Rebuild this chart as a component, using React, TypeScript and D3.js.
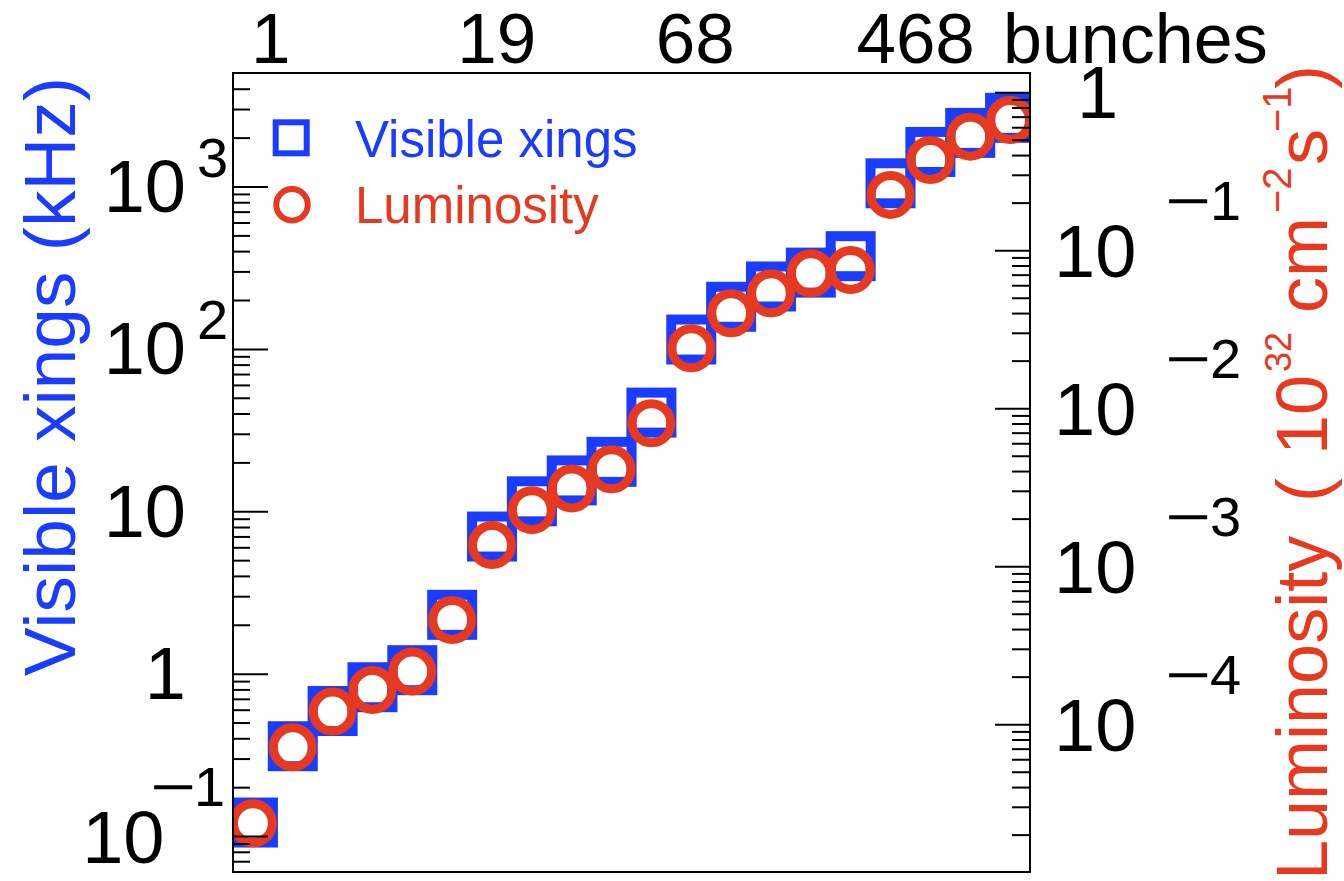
import React from "react";
import * as d3 from "d3";

// Visible bunch crossings per fill step (kHz), left axis
const visibleXings = [
  0.122, 0.36, 0.593, 0.831, 1.058, 2.32, 7.04, 11.6, 15.6, 20.3,
  40.8, 115, 183, 244, 297, 375, 1054, 1644, 2154, 2667,
];

// Instantaneous luminosity (10^32 cm^-2 s^-1), right axis
const luminosity = [
  2.38e-5, 7.19e-5, 1.21e-4, 1.66e-4, 2.17e-4, 4.6e-4, 1.37e-3, 2.28e-3,
  3.13e-3, 4.13e-3, 8.09e-3, 0.0241, 0.0402, 0.0537, 0.0719, 0.0755,
  0.2255, 0.375, 0.527, 0.671,
];

// Number of colliding bunches, annotated along the top edge (bin coordinate)
const bunchLabels = ["1", "19", "68", "468"];
const bunchLabelBin = [0.95, 6.62, 11.6, 17.13];

const leftMajor = [0.1, 1, 10, 100, 1000];
const rightMajor = [1e-4, 1e-3, 1e-2, 1e-1, 1];

const W = 1344;
const H = 881;
const FRAME = { left: 233, right: 1030, top: 73, bottom: 872 };

const BLUE = "#1a3cff";
const RED = "#e6391f";
const FONT = "'Liberation Sans', Arial, Helvetica, sans-serif";

const x = d3
  .scaleLinear()
  .domain([0, visibleXings.length])
  .range([FRAME.left, FRAME.right]);
const yL = d3
  .scaleLog()
  .domain([0.0605, 5035])
  .range([FRAME.bottom, FRAME.top]);
const yR = d3
  .scaleLog()
  .domain([1.1686e-5, 1.3322])
  .range([FRAME.bottom, FRAME.top]);

function minorTicks(scale: d3.ScaleLogarithmic<number, number>) {
  return scale
    .ticks()
    .filter((v) => Math.abs(v / Math.pow(10, Math.round(Math.log10(v))) - 1) > 1e-6)
    .map((v) => scale(v))
    .filter((y) => y > FRAME.top + 3 && y < FRAME.bottom - 3);
}

// Long TLatex-style minus sign
function Minus({ x0, y0, size }: { x0: number; y0: number; size: number }) {
  return (
    <text
      transform={`translate(${x0},${y0}) scale(1.4,1)`}
      fontSize={size}
      fontFamily={FONT}
      fill="#000"
    >
      {"\u2212"}
    </text>
  );
}

function LeftLabel({ v }: { v: number }) {
  const y = yL(v);
  const e = Math.round(Math.log10(v));
  if (e === 0 || e === 1) {
    return (
      <text x={186} y={y + 25} textAnchor="end" fontSize={74}>
        {e === 0 ? "1" : "10"}
      </text>
    );
  }
  if (e > 1) {
    return (
      <g>
        <text x={186} y={y + 25} textAnchor="end" fontSize={74}>
          10
        </text>
        <text x={197} y={y - 10} fontSize={56}>
          {String(e)}
        </text>
      </g>
    );
  }
  return (
    <g>
      <text x={164.5} y={y + 26} textAnchor="end" fontSize={74}>
        10
      </text>
      <Minus x0={150.3} y0={y - 31} size={56} />
      <text x={194} y={y - 31} fontSize={56}>
        {String(-e)}
      </text>
    </g>
  );
}

function RightLabel({ v }: { v: number }) {
  const y = yR(v);
  const e = Math.round(Math.log10(v));
  if (e === 0) {
    return (
      <text x={1077} y={y + 25} fontSize={74}>
        1
      </text>
    );
  }
  return (
    <g>
      <text x={1054} y={y + 26} fontSize={74}>
        10
      </text>
      <Minus x0={1165.3} y0={y - 31} size={56} />
      <text x={1210} y={y - 31} fontSize={56}>
        {String(-e)}
      </text>
    </g>
  );
}

export default function App() {
  const leftMinor = minorTicks(yL);
  const rightMinor = minorTicks(yR);

  return (
    <svg
      width={W}
      height={H}
      viewBox={`0 0 ${W} ${H}`}
      style={{ position: "absolute", left: 0, top: 0, background: "#fff" }}
      fontFamily={FONT}
    >
      <defs>
        <clipPath id="plot-area">
          <rect
            x={FRAME.left}
            y={FRAME.top}
            width={FRAME.right - FRAME.left}
            height={FRAME.bottom - FRAME.top}
          />
        </clipPath>
      </defs>
      <rect width={W} height={H} fill="#fff" />

      {/* data markers */}
      <g clipPath="url(#plot-area)">
        {visibleXings.map((v, i) => (
          <rect
            key={`s${i}`}
            x={x(i + 0.5) - 20}
            y={yL(v) - 20}
            width={40}
            height={40}
            fill="none"
            stroke={BLUE}
            strokeWidth={10}
          />
        ))}
        {luminosity.map((v, i) => (
          <circle
            key={`c${i}`}
            cx={x(i + 0.5)}
            cy={yR(v)}
            r={19.5}
            fill="none"
            stroke={RED}
            strokeWidth={9}
          />
        ))}
      </g>

      {/* frame */}
      <rect
        x={FRAME.left}
        y={FRAME.top}
        width={FRAME.right - FRAME.left}
        height={FRAME.bottom - FRAME.top}
        fill="none"
        stroke="#000"
        strokeWidth={2}
      />

      {/* axis ticks, drawn inward from the frame */}
      <g stroke="#000" strokeWidth={2}>
        {leftMajor.map((v) => (
          <line key={`lM${v}`} x1={FRAME.left} x2={FRAME.left + 35} y1={yL(v)} y2={yL(v)} />
        ))}
        {leftMinor.map((y, i) => (
          <line key={`lm${i}`} x1={FRAME.left} x2={FRAME.left + 17} y1={y} y2={y} />
        ))}
        {rightMajor.map((v) => (
          <line key={`rM${v}`} x1={FRAME.right} x2={FRAME.right - 35} y1={yR(v)} y2={yR(v)} />
        ))}
        {rightMinor.map((y, i) => (
          <line key={`rm${i}`} x1={FRAME.right} x2={FRAME.right - 18} y1={y} y2={y} />
        ))}
      </g>

      {/* tick labels */}
      <g fill="#000">
        {leftMajor.map((v) => (
          <LeftLabel key={`ll${v}`} v={v} />
        ))}
        {rightMajor.map((v) => (
          <RightLabel key={`rl${v}`} v={v} />
        ))}
      </g>

      {/* bunch annotations along the top */}
      <g fill="#000">
        {bunchLabels.map((t, i) => (
          <text key={`b${t}`} x={x(bunchLabelBin[i])} y={63} textAnchor="middle" fontSize={71}>
            {t}
          </text>
        ))}
        <text x={1003} y={63} fontSize={70}>
          bunches
        </text>
      </g>

      {/* axis titles */}
      <text transform="translate(75,676) rotate(-90)" fontSize={73} fill={BLUE}>
        Visible xings (kHz)
      </text>
      <text transform="translate(1327,880) rotate(-90)" fontSize={72} fill={RED}>
        <tspan x={0} y={0}>Luminosity</tspan>
        <tspan x={378} y={0}>(</tspan>
        <tspan x={425} y={0}>10</tspan>
        <tspan x={508} y={-36} fontSize={36}>32</tspan>
        <tspan x={567} y={0}>cm</tspan>
        <tspan x={667} y={-36} fontSize={40}>{"\u22122"}</tspan>
        <tspan x={715} y={0}>s</tspan>
        <tspan x={748} y={-36} fontSize={40}>{"\u22121"}</tspan>
        <tspan x={791} y={0}>)</tspan>
      </text>

      {/* legend */}
      <rect x={291.2 - 15.5} y={137.8 - 15.5} width={31} height={31} fill="none" stroke={BLUE} strokeWidth={6} />
      <text x={355} y={157} fontSize={51} fill={BLUE}>
        Visible xings
      </text>
      <circle cx={292} cy={204.7} r={15.75} fill="none" stroke={RED} strokeWidth={6} />
      <text x={355} y={223} fontSize={51} fill={RED}>
        Luminosity
      </text>
    </svg>
  );
}
